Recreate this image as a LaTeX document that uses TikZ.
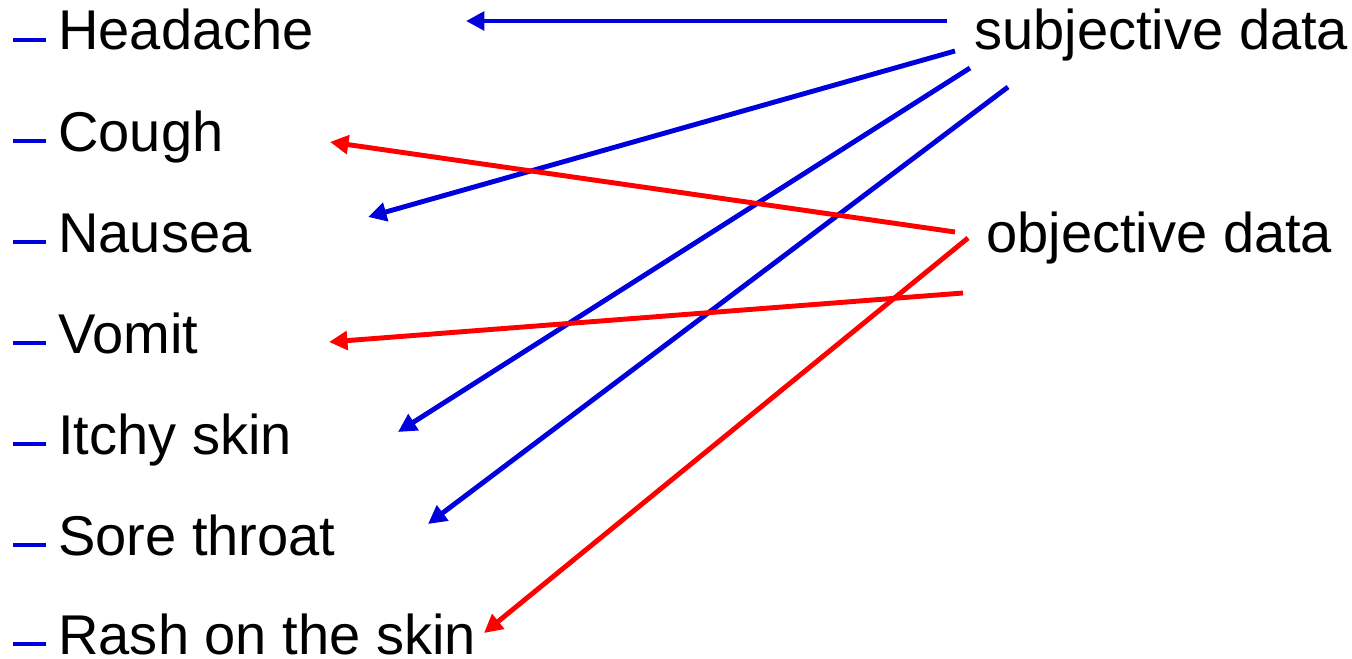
\documentclass[tikz,border=0pt]{standalone}
\usepackage{fontspec}
\setmainfont{Liberation Sans}
\usetikzlibrary{arrows.meta}
\definecolor{subj}{RGB}{0,0,220}
\definecolor{obj} {RGB}{255,0,0}
\definecolor{ink} {HTML}{000000}

\tikzset{
  item/.style={anchor=base west, inner sep=0pt, text=ink, font=\fontsize{31.9}{36}\selectfont},
  bulletdash/.style={subj, line width=2.2pt},
  link/.style={line width=2.8pt, -{Triangle[length=10.5pt, width=10.5pt]}}
}

\begin{document}
\begin{tikzpicture}[x=0.02cm, y=-0.02cm]
    \useasboundingbox (0,0) rectangle (1352,659);

    % symptom list
    \foreach \nm/\txt/\yy in {headache/Headache/50, cough/Cough/151,
        nausea/Nausea/252, vomit/Vomit/353, itchy/Itchy skin/454,
        sore/Sore throat/555, rash/Rash on the skin/654} {
      \node[item] (\nm) at (58,\yy) {\txt};
      \draw[bulletdash] (13,\yy-10) -- (46,\yy-10);
    }

    \node[item] (subjective) at (974,50) {subjective data};
    \node[item] (objective)  at (986,252) {objective data};

    % free ends of the connectors
    \coordinate (s1) at (947,21);
    \coordinate (s2) at (955,51);
    \coordinate (s3) at (970,68);
    \coordinate (s4) at (1008,87);
    \coordinate (o1) at (955,232);
    \coordinate (o2) at (963,293);
    \coordinate (o3) at (968,238);

    \coordinate (headache-in) at (466,21);
    \coordinate (nausea-in)   at (368,217);
    \coordinate (itchy-in)    at (398,432);
    \coordinate (sore-in)     at (428,524);
    \coordinate (cough-in)    at (330,142);
    \coordinate (vomit-in)    at (329,342);
    \coordinate (rash-in)     at (484,633);

    \draw[link, subj] (s1) -- (headache-in);
    \draw[link, subj] (s2) -- (nausea-in);
    \draw[link, subj] (s3) -- (itchy-in);
    \draw[link, subj] (s4) -- (sore-in);

    \draw[link, obj] (o1) -- (cough-in);
    \draw[link, obj] (o2) -- (vomit-in);
    \draw[link, obj] (o3) -- (rash-in);
\end{tikzpicture}
\end{document}
